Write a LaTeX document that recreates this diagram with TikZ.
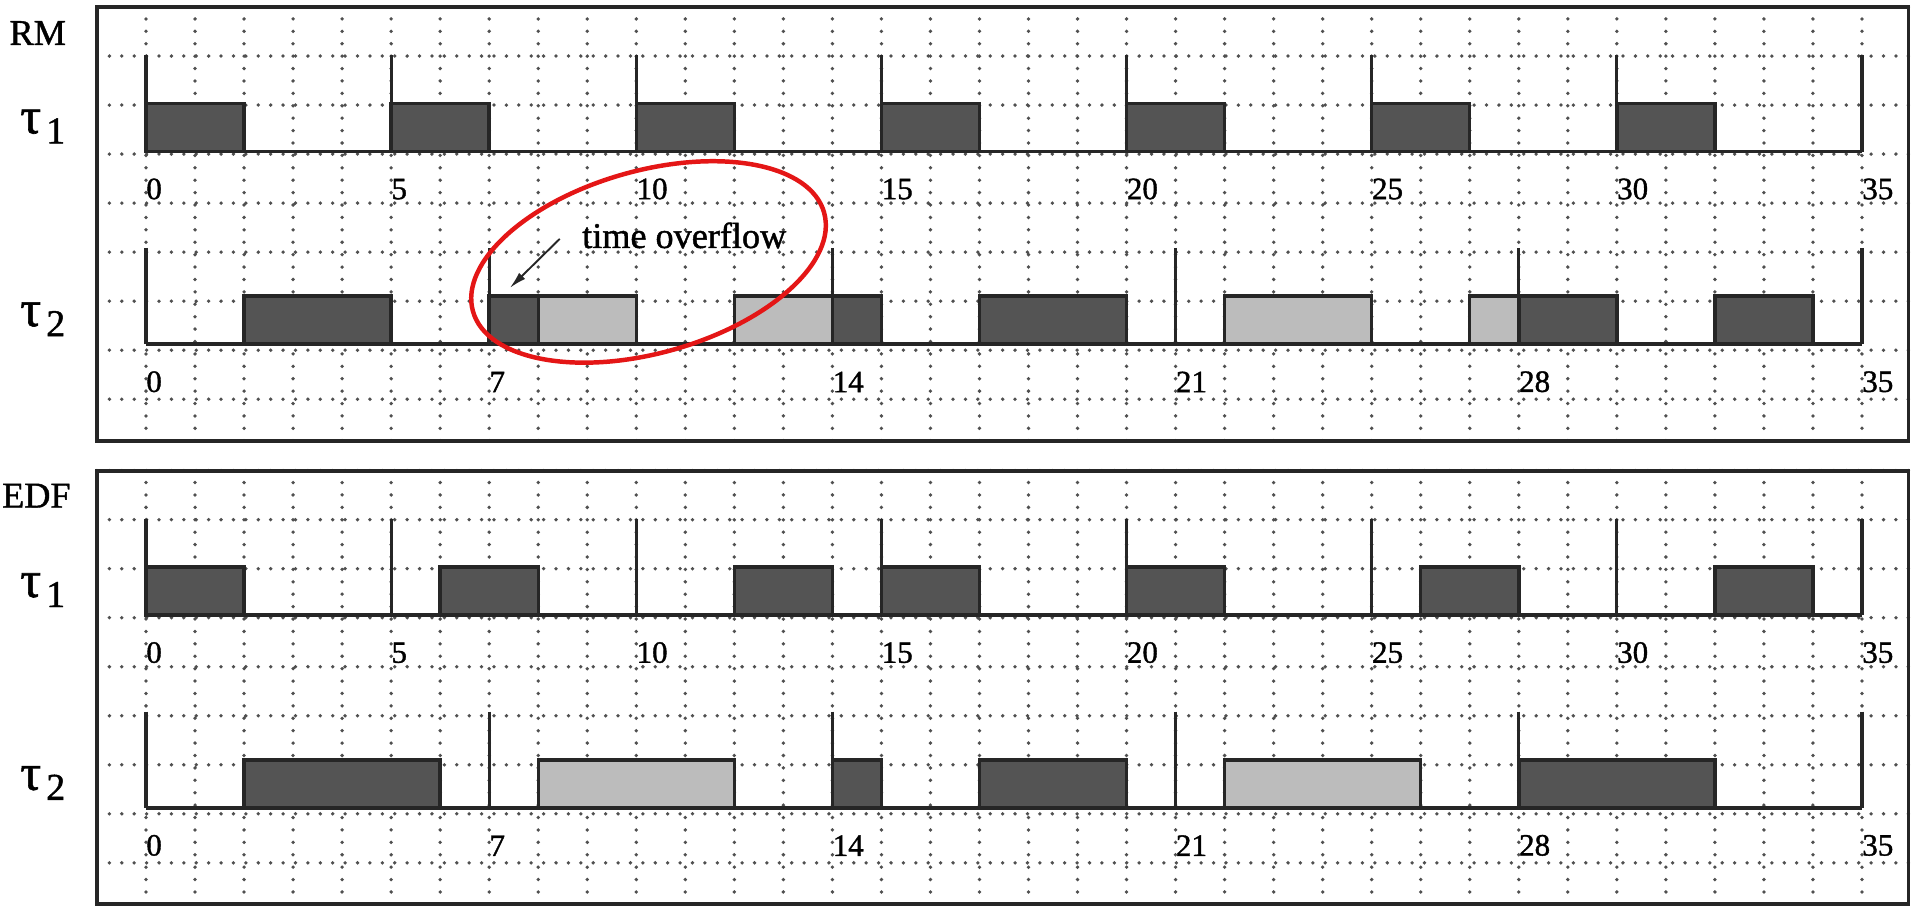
\documentclass[tikz,border=0pt]{standalone}
\usepackage{fontspec}
\setmainfont{Liberation Serif}[FakeBold=1.2]
\usepackage{tikz}
\usetikzlibrary{arrows.meta}

\newcommand{\tasksym}[1]{{\fontsize{30}{30}\selectfont τ}\hspace{3pt}\raisebox{-5.8pt}{\fontsize{22}{22}\selectfont #1}}

\begin{document}
\begin{tikzpicture}[x=1cm, y=0.983cm]
      % colours
      \definecolor{jobdark}{RGB}{84,84,84}       % first, third, fifth job
      \definecolor{joblight}{RGB}{188,188,188}   % second, fourth job
      \definecolor{gridgray}{RGB}{80,80,80}      % dotted grid
      \definecolor{markred}{RGB}{228,22,22}      % overflow mark

      % styles
      \tikzstyle{gridline} = [gridgray, line width=2.2pt, dash pattern=on 0pt off 7.2pt, line cap=round]
      \tikzstyle{frame} = [draw=black!85, line width=2.2pt]
      \tikzstyle{axisline} = [black!85, line width=2.2pt]
      \tikzstyle{release} = [black!85, line width=1.8pt]
      \tikzstyle{darkjob} = [fill=jobdark, draw=black!85, line width=2pt]
      \tikzstyle{lightjob} = [fill=joblight, draw=black!85, line width=2pt]
      \tikzstyle{ticklabel} = [anchor=south west, inner sep=0pt, font=\fontsize{18}{18}\selectfont]
      \tikzstyle{tasklabel} = [anchor=west, inner sep=0pt]
      \tikzstyle{algolabel} = [anchor=west, inner sep=0pt, font=\fontsize{21}{21}\selectfont]

      \useasboundingbox (-2.978,0.145) rectangle (36.0,-18.65);

      % ---------- RM ----------
      \draw[gridline] (-1,0) grid (35.95,-9);

      % tau1 jobs
      \draw[darkjob] (0,-3) rectangle (2,-2);
      \draw[darkjob] (5,-3) rectangle (7,-2);
      \draw[darkjob] (10,-3) rectangle (12,-2);
      \draw[darkjob] (15,-3) rectangle (17,-2);
      \draw[darkjob] (20,-3) rectangle (22,-2);
      \draw[darkjob] (25,-3) rectangle (27,-2);
      \draw[darkjob] (30,-3) rectangle (32,-2);

      % tau2 jobs
      \draw[darkjob] (2,-7) rectangle (5,-6);
      \draw[darkjob] (7,-7) rectangle (8,-6);
      \draw[lightjob] (8,-7) rectangle (10,-6);
      \draw[lightjob] (12,-7) rectangle (14,-6);
      \draw[darkjob] (14,-7) rectangle (15,-6);
      \draw[darkjob] (17,-7) rectangle (20,-6);
      \draw[lightjob] (22,-7) rectangle (25,-6);
      \draw[lightjob] (27,-7) rectangle (28,-6);
      \draw[darkjob] (28,-7) rectangle (30,-6);
      \draw[darkjob] (32,-7) rectangle (34,-6);

      % time axes and releases
      \draw[axisline] (0,-3) -- (35,-3);
      \draw[axisline] (0,-7) -- (35,-7);
      \foreach \t in {0,5,...,35} \draw[release] (\t,-1) -- (\t,-3);
      \foreach \t in {0,7,...,35} \draw[release] (\t,-5) -- (\t,-7);
      \draw[frame] (-1,0) rectangle (35.95,-9);

      % labels
      \node[algolabel] (rmname) at (-2.79,-0.54) {RM};
      \node[tasklabel] (rmtaua) at (-2.57,-2.48) {\tasksym{1}};
      \node[tasklabel] (rmtaub) at (-2.57,-6.48) {\tasksym{2}};
      \foreach \t in {0,5,...,35} \node[ticklabel] (rmticka\t) at (\t,-4) {\t};
      \foreach \t in {0,7,...,35} \node[ticklabel] (rmtickb\t) at (\t,-8) {\t};

      % overflow mark
      \coordinate (ovcenter) at (10.25,-5.29);
      \draw[markred, line width=2.6pt, rotate around={15.7:(ovcenter)}] (ovcenter) ellipse [x radius=3.72cm, y radius=1.86cm];
      \node[anchor=base west, inner sep=0pt, font=\fontsize{21}{21}\selectfont] (ovtext) at (8.89,-5) {time overflow};
      \coordinate (ovtail) at (8.44,-4.81);
      \coordinate (ovtip) at (7.42,-5.83);
      \draw[-{Latex[length=10pt,width=5pt]}, black!85, line width=1.1pt] (ovtail) -- (ovtip);

      % ---------- EDF ----------
      \begin{scope}[shift={(0,-9.62)}]
      \draw[gridline] (-1,0) grid (35.95,-9);

      % tau1 jobs
      \draw[darkjob] (0,-3) rectangle (2,-2);
      \draw[darkjob] (6,-3) rectangle (8,-2);
      \draw[darkjob] (12,-3) rectangle (14,-2);
      \draw[darkjob] (15,-3) rectangle (17,-2);
      \draw[darkjob] (20,-3) rectangle (22,-2);
      \draw[darkjob] (26,-3) rectangle (28,-2);
      \draw[darkjob] (32,-3) rectangle (34,-2);

      % tau2 jobs
      \draw[darkjob] (2,-7) rectangle (6,-6);
      \draw[lightjob] (8,-7) rectangle (12,-6);
      \draw[darkjob] (14,-7) rectangle (15,-6);
      \draw[darkjob] (17,-7) rectangle (20,-6);
      \draw[lightjob] (22,-7) rectangle (26,-6);
      \draw[darkjob] (28,-7) rectangle (32,-6);

      % time axes and releases
      \draw[axisline] (0,-3) -- (35,-3);
      \draw[axisline] (0,-7) -- (35,-7);
      \foreach \t in {0,5,...,35} \draw[release] (\t,-1) -- (\t,-3);
      \foreach \t in {0,7,...,35} \draw[release] (\t,-5) -- (\t,-7);
      \draw[frame] (-1,0) rectangle (35.95,-9);

      % labels
      \node[algolabel] (edfname) at (-2.94,-0.52) {EDF};
      \node[tasklabel] (edftaua) at (-2.57,-2.48) {\tasksym{1}};
      \node[tasklabel] (edftaub) at (-2.57,-6.48) {\tasksym{2}};
      \foreach \t in {0,5,...,35} \node[ticklabel] (edfticka\t) at (\t,-4) {\t};
      \foreach \t in {0,7,...,35} \node[ticklabel] (edftickb\t) at (\t,-8) {\t};
      \end{scope}
\end{tikzpicture}
\end{document}
